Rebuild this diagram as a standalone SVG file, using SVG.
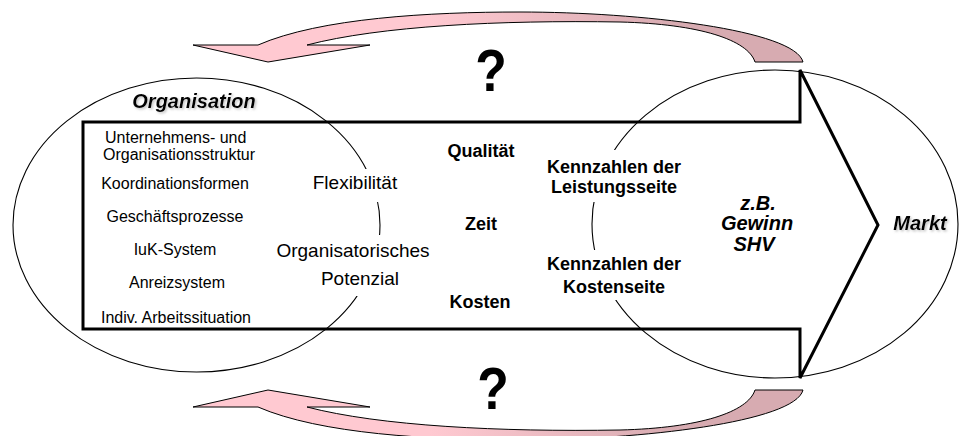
<svg xmlns="http://www.w3.org/2000/svg" width="966" height="436" viewBox="0 0 966 436">
  <style>
    .ring { fill: none; stroke: #000; stroke-width: 1.1; }
    .body { fill: none; stroke: #000; stroke-width: 3; stroke-linejoin: miter; }
    .mask { fill: #fff; stroke: none; }
    .loop { fill: url(#loopFill); stroke: #000; stroke-width: 1; stroke-linejoin: miter; }
    text { font-family: "Liberation Sans", Arial, sans-serif; fill: #000; text-anchor: middle; }
    .lever { font-size: 16px; }
    .lever-l { font-size: 16px; text-anchor: start; }
    .pot { font-size: 19px; }
    .kpi { font-size: 18px; font-weight: bold; }
    .goal { font-size: 20px; font-weight: bold; font-style: italic; }
    .title { font-size: 20px; font-weight: bold; font-style: italic; filter: url(#shade); }
    .ask { font-size: 60px; font-weight: bold; }
  </style>
  <defs>
    <linearGradient id="loopFill" gradientUnits="userSpaceOnUse" x1="430" y1="0" x2="680" y2="0">
      <stop offset="0" stop-color="#ffc9d1"/>
      <stop offset="1" stop-color="#d7abb1"/>
    </linearGradient>
    <filter id="shade" x="-10%" y="-30%" width="130%" height="170%">
      <feDropShadow dx="1.5" dy="1.5" stdDeviation="1.2" flood-color="#888" flood-opacity="0.5"/>
    </filter>
    <!-- curved feedback arrow running from the market back to the organisation -->
    <path id="loop" d="M803,62 L755,62 C748,40 700,24 620,22 C500,20 380,26 307,45 L370,45 L268,62 L193,45 L258,45 C320,18 430,12 520,12 C640,12 795,30 803,62 Z"/>
  </defs>

  <rect x="0" y="0" width="966" height="436" fill="#fff"/>

  <!-- organisation sphere -->
  <g id="organisation">
    <ellipse class="ring" cx="196.5" cy="225" rx="183.5" ry="147"/>
    <text class="title" x="194" y="108">Organisation</text>
  </g>

  <!-- market sphere -->
  <g id="markt">
    <ellipse class="ring" cx="775" cy="224" rx="183" ry="154"/>
    <text class="title" x="920" y="230">Markt</text>
  </g>

  <!-- large block arrow pointing to the market -->
  <g id="wertschoepfung">
    <polygon class="body" points="83,122 800,122 800,70 878,225 800,378 800,329 83,329"/>
  </g>

  <!-- organisational levers -->
  <g id="gestaltungsfelder">
    <text class="lever-l" x="105" y="143">Unternehmens- und</text>
    <text class="lever-l" x="103" y="160">Organisationsstruktur</text>
    <text class="lever" x="175" y="189">Koordinationsformen</text>
    <text class="lever" x="175" y="222">Geschäftsprozesse</text>
    <text class="lever" x="175" y="255">IuK-System</text>
    <text class="lever" x="177" y="288">Anreizsystem</text>
    <text class="lever" x="176" y="323">Indiv. Arbeitssituation</text>
  </g>

  <!-- potential -->
  <g id="potenzial">
    <rect class="mask" x="306" y="169" width="98" height="33"/>
    <text class="pot" x="355" y="189">Flexibilität</text>
    <rect class="mask" x="268" y="235" width="170" height="61"/>
    <text class="pot" x="353" y="257">Organisatorisches</text>
    <text class="pot" x="360" y="285">Potenzial</text>
  </g>

  <!-- target dimensions -->
  <g id="zieldimensionen">
    <text class="kpi" x="481" y="157">Qualität</text>
    <text class="kpi" x="481" y="230">Zeit</text>
    <text class="kpi" x="480" y="308">Kosten</text>
  </g>

  <!-- key figures -->
  <g id="kennzahlen">
    <rect class="mask" x="543" y="150" width="142" height="52"/>
    <text class="kpi" x="614" y="173">Kennzahlen der</text>
    <text class="kpi" x="614" y="193">Leistungsseite</text>
    <rect class="mask" x="543" y="250" width="142" height="50"/>
    <text class="kpi" x="614" y="270">Kennzahlen der</text>
    <text class="kpi" x="614" y="293">Kostenseite</text>
  </g>

  <!-- result figures -->
  <g id="erfolgsgroessen">
    <text class="goal" x="758" y="210">z.B.</text>
    <text class="goal" x="757" y="230">Gewinn</text>
    <text class="goal" x="754" y="251">SHV</text>
  </g>

  <!-- feedback loops -->
  <g id="connectors">
    <use href="#loop" class="loop"/>
    <use href="#loop" class="loop" transform="matrix(1 0 0 -1 0 452)"/>
    <text class="ask" transform="translate(491,91) scale(0.86,1)">?</text>
    <text class="ask" transform="translate(493,409) scale(0.86,1)">?</text>
  </g>
</svg>
